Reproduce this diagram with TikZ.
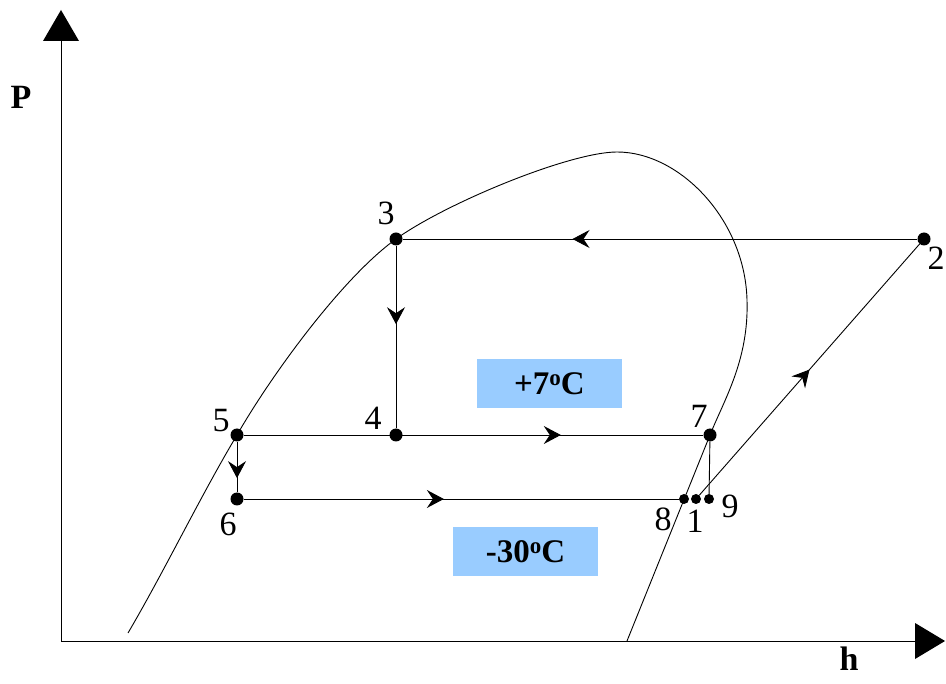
\documentclass[tikz,border=0pt]{standalone}
\usepackage{fontspec}
\setmainfont{Liberation Serif}
\usetikzlibrary{arrows.meta,decorations.markings}
\definecolor{boxblue}{HTML}{99CCFF}
\tikzset{
  pt/.style={circle,fill=black,inner sep=0pt,minimum size=13pt},
  spt/.style={circle,fill=black,inner sep=0pt,minimum size=10pt},
  num/.style={inner sep=0pt,font=\fontsize{34}{34}\selectfont},
  axlab/.style={inner sep=0pt,font=\fontsize{34}{34}\selectfont\bfseries},
  tbox/.style={fill=boxblue,inner sep=0pt,minimum width=145pt,minimum height=49pt,font=\fontsize{33}{33}\selectfont\bfseries},
  ln/.style={line width=0.9pt},
  midarrow/.style={postaction={decorate},decoration={markings,mark=at position #1 with {\arrow{Stealth[length=17pt,width=18pt,inset=6pt]}}}}
}
\newcommand{\degsup}{\raisebox{0.6ex}{\fontsize{23}{23}\selectfont o}}
\begin{document}
\begin{tikzpicture}[x=1pt,y=-1pt]
\useasboundingbox (0,0) rectangle (946,684);
% axes
\coordinate (O) at (61,641);
\coordinate (Ytop) at (61,40);
\coordinate (Xend) at (915,641);
\draw[ln] (Ytop) -- (O) -- (Xend);
\fill (43,41) -- (79,41) -- (61,10) -- cycle;
\fill (915,623) -- (915,659) -- (945,641) -- cycle;
\node[axlab] (P) at (21,97) {P};
\node[axlab] (h) at (849,659) {h};
% saturation dome
\draw[ln] (128,633) .. controls (165,570) and (200,497) .. (237,435)
  .. controls (272,374) and (343,277) .. (396,239)
  .. controls (446,203) and (570,152) .. (617,152)
  .. controls (680,152) and (745,220) .. (747,300)
  .. controls (749,360) and (724,400) .. (710,435)
  -- (627,641);
% boxes
\node[tbox] (hot) at (549.5,383.5) {+7\degsup C};
\node[tbox] (cold) at (525.5,551.5) {-30\degsup C};
% points
\node[pt] (p3) at (396,239) {};
\node[pt] (p2) at (924,239) {};
\node[pt] (p4) at (396,435) {};
\node[pt] (p5) at (237,435) {};
\node[pt] (p6) at (237,499) {};
\node[pt] (p7) at (710,435) {};
\node[spt] (p8) at (684,499) {};
\node[spt] (p1) at (696,499) {};
\node[spt] (p9) at (709,499) {};
% labels
\node[num] (l3) at (386,213) {3};
\node[num] (l2) at (936,258) {2};
\node[num] (l4) at (373,418) {4};
\node[num] (l5) at (221,421) {5};
\node[num] (l6) at (228,524) {6};
\node[num] (l7) at (699,416) {7};
\node[num] (l8) at (663,519) {8};
\node[num] (l1) at (695,521) {1};
\node[num] (l9) at (730,506) {9};
% cycle lines
\draw[ln,midarrow=0.67] (p2) -- (p3);
\draw[ln,midarrow=0.43] (p3) -- (p4);
\draw[ln,midarrow=0.69] (p5) -- (p7);
\draw[ln,midarrow=0.72] (p5) -- (p6);
\draw[ln,midarrow=0.46] (p6) -- (p8);
\draw[ln] (p7) -- (p9);
\draw[ln,midarrow=0.5] (p1) -- (p2);
\end{tikzpicture}
\end{document}
